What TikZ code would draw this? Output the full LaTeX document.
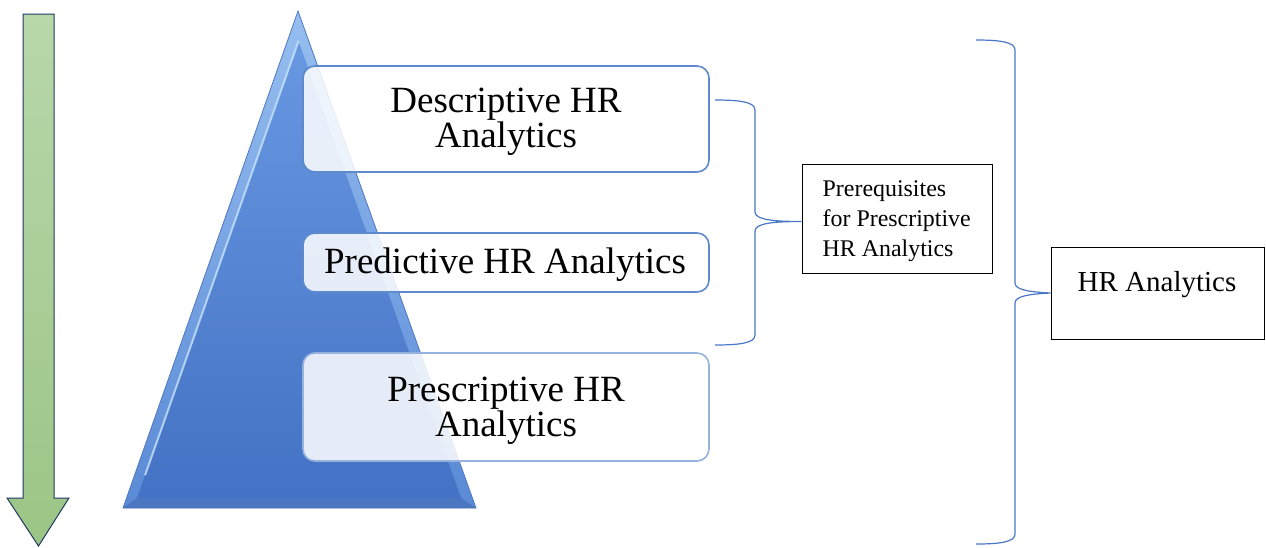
\documentclass[tikz,border=0pt]{standalone}
\usepackage{fontspec}
\setmainfont{Liberation Serif}
\usetikzlibrary{calc}
\definecolor{boxblue}{HTML}{5E89CC}
\definecolor{boxblue3}{HTML}{96B2DE}
\definecolor{braceblue}{HTML}{4A78C8}
\definecolor{arrowedge}{HTML}{203864}
\definecolor{greentop}{HTML}{B8D7AA}
\definecolor{greenbot}{HTML}{9BC585}
\definecolor{trioutTop}{HTML}{96BEF0}
\definecolor{trioutBot}{HTML}{5A8AD6}
\definecolor{triedge}{HTML}{5078BE}
\definecolor{triinTop}{HTML}{6898E2}
\definecolor{triinBot}{HTML}{4472C4}
\definecolor{trihigh}{HTML}{C8E4FA}
\definecolor{tribase}{HTML}{3C64AF}
\begin{document}
\begin{tikzpicture}[x=1pt,y=-1pt,
  glassbox/.style={draw=boxblue, line width=1.6pt, rounded corners=12pt, fill=white, fill opacity=0.86,
    minimum width=406pt, inner sep=0pt},
  glasstext/.style={font=\fontsize{37}{35.5}\selectfont, align=center, inner sep=0pt},
  plainbox/.style={draw=black, line width=1pt, fill=white},
  bracestyle/.style={draw=braceblue, line width=1.2pt},
]
\useasboundingbox (0,0) rectangle (1266,547);

% green arrow
\shade[top color=greentop, bottom color=greenbot, draw=arrowedge, line width=1pt]
  (23,14) -- (54,14) -- (54,498) -- (69,498) -- (38.5,546) -- (7,498) -- (23,498) -- cycle;

% triangle
\coordinate (apex) at (298,11);
\coordinate (bl) at (123,508);
\coordinate (br) at (476,508);
\coordinate (iapex) at (298.5,41);
\coordinate (ibl) at (137,498);
\coordinate (ibr) at (461,498);
\shade[top color=trioutTop, bottom color=trioutBot, draw=triedge, line width=0.8pt]
  (apex) -- (bl) -- (br) -- cycle;
\shade[top color=triinTop, bottom color=triinBot]
  (iapex) -- (ibl) -- (ibr) -- cycle;
\draw[line width=2pt, draw=trihigh, opacity=0.8] (iapex) -- ($(iapex)!0.95!(ibl)$);
\fill[tribase, opacity=0.5] (bl) -- (br) -- (ibr) -- (ibl) -- cycle;

% boxes
\node[glassbox, minimum height=106pt] (desc) at (506,119) {};
\node[glasstext] (desctext) at (506,121.5) {Descriptive HR\\Analytics};
\node[glassbox, minimum height=59pt] (pred) at (506,262.5) {};
\node[glasstext] (predtext) at (505,265) {Predictive HR Analytics};
\node[glassbox, minimum height=108pt, draw=boxblue3] (pres) at (506,407) {};
\node[glasstext] (prestext) at (506,410.5) {Prescriptive HR\\Analytics};

% prerequisite box
\node[plainbox, minimum width=190pt, minimum height=109pt] (pre) at (897,218.5) {};
\node[align=left, inner sep=0pt, anchor=west, font=\fontsize{23.9}{30}\selectfont] (pretext) at (822.5,221)
  {Prerequisites\\for Prescriptive\\HR Analytics};

% HR analytics box
\node[plainbox, minimum width=213pt, minimum height=92pt] (hr) at (1157.5,293) {};
\node[font=\fontsize{29}{30}\selectfont, inner sep=0pt] (hrtext) at (1157,285) {HR Analytics};

% small brace
\coordinate (s1) at (715,100);
\coordinate (s2) at (715,345);
\draw[bracestyle] (s1) .. controls (740,100) and (755,102) .. (755,110) -- (755,212)
  .. controls (755,220) and (775,221.5) .. (pre.west |- 0,221.5)
  .. controls (775,221.5) and (755,223) .. (755,231) -- (755,335)
  .. controls (755,343) and (740,345) .. (s2);

% big brace
\coordinate (b1) at (976,40);
\coordinate (b2) at (976,544);
\draw[bracestyle] (b1) .. controls (1000,40) and (1015,42) .. (1015,50) -- (1015,283)
  .. controls (1015,290) and (1030,292) .. (hr.west)
  .. controls (1030,294) and (1015,296) .. (1015,303) -- (1015,534)
  .. controls (1015,542) and (1000,544) .. (b2);
\end{tikzpicture}
\end{document}
